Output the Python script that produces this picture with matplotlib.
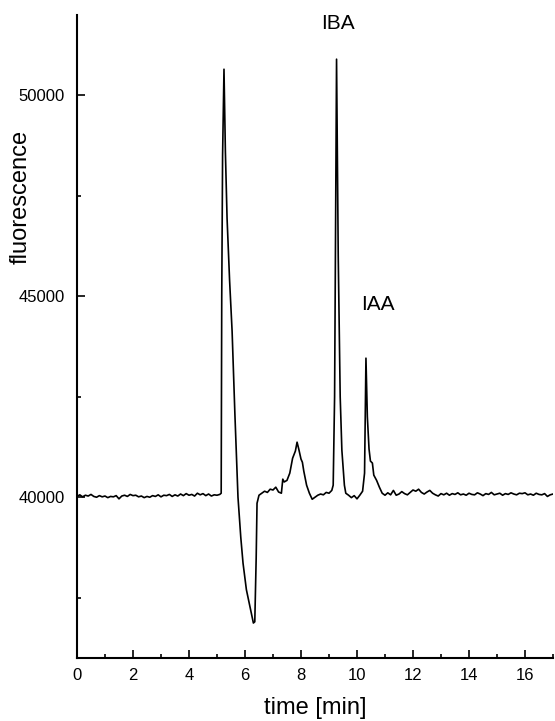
import matplotlib
matplotlib.use("Agg")
import matplotlib.pyplot as plt
from matplotlib.ticker import MultipleLocator

plt.rcParams["font.family"] = ["Liberation Sans", "DejaVu Sans"]

# chromatogram: time [min] and fluorescence
time_min = [
    0.0, 0.1, 0.2, 0.3, 0.4, 0.5, 0.6, 0.7, 0.8, 0.9,
    1.0, 1.1, 1.2, 1.3, 1.4, 1.5, 1.6, 1.7, 1.8, 1.9,
    2.0, 2.1, 2.2, 2.3, 2.4, 2.5, 2.6, 2.7, 2.8, 2.9,
    3.0, 3.1, 3.2, 3.3, 3.4, 3.5, 3.6, 3.7, 3.8, 3.9,
    4.0, 4.1, 4.2, 4.3, 4.4, 4.5, 4.6, 4.7, 4.8, 4.9,
    5.0, 5.1, 5.15, 5.17, 5.2, 5.25, 5.3, 5.36, 5.45, 5.54,
    5.64, 5.75, 5.85, 5.93, 6.05, 6.2, 6.3, 6.35, 6.4, 6.43,
    6.5, 6.6, 6.7, 6.8, 6.9, 7.0, 7.1, 7.2, 7.3, 7.35,
    7.4, 7.5, 7.6, 7.7, 7.8, 7.86, 7.92, 8.0, 8.05, 8.1,
    8.2, 8.3, 8.4, 8.5, 8.6, 8.7, 8.8, 8.9, 9.0, 9.1,
    9.15, 9.2, 9.27, 9.33, 9.4, 9.46, 9.55, 9.6, 9.7, 9.8,
    9.9, 10.0, 10.1, 10.2, 10.27, 10.32, 10.37, 10.43, 10.48, 10.55,
    10.6, 10.7, 10.8, 10.9, 11.0, 11.1, 11.2, 11.3, 11.4, 11.5,
    11.6, 11.7, 11.8, 11.9, 12.0, 12.1, 12.2, 12.3, 12.4, 12.5,
    12.6, 12.7, 12.8, 12.9, 13.0, 13.1, 13.2, 13.3, 13.4, 13.5,
    13.6, 13.7, 13.8, 13.9, 14.0, 14.1, 14.2, 14.3, 14.4, 14.5,
    14.6, 14.7, 14.8, 14.9, 15.0, 15.1, 15.2, 15.3, 15.4, 15.5,
    15.6, 15.7, 15.8, 15.9, 16.0, 16.1, 16.2, 16.3, 16.4, 16.5,
    16.6, 16.7, 16.8, 16.9, 17.0,
]
fluorescence = [
    40020, 40060, 40010, 40050, 40030, 40070, 40020, 40000, 40040, 40010,
    40030, 39990, 40020, 40010, 40040, 39960, 40030, 40050, 40020, 40070,
    40040, 40050, 40010, 40030, 39990, 40020, 40000, 40040, 40020, 40060,
    40010, 40050, 40040, 40070, 40020, 40060, 40030, 40080, 40040, 40090,
    40050, 40070, 40030, 40100, 40060, 40090, 40040, 40080, 40030, 40060,
    40050, 40070, 40100, 45000, 48500, 50650, 48600, 46940, 45400, 44130,
    42060, 40000, 39000, 38360, 37700, 37200, 36870, 36900, 38500, 39850,
    40050, 40100, 40150, 40120, 40200, 40180, 40250, 40130, 40100, 40450,
    40380, 40420, 40600, 40970, 41150, 41370, 41200, 40950, 40870, 40650,
    40300, 40100, 39950, 40000, 40050, 40080, 40060, 40120, 40100, 40170,
    40300, 42500, 50900, 46000, 42500, 41170, 40300, 40100, 40050, 39990,
    40040, 39960, 40050, 40150, 40600, 43460, 42000, 41200, 40900, 40850,
    40550, 40420, 40250, 40100, 40050, 40110, 40060, 40170, 40050, 40080,
    40140, 40090, 40060, 40120, 40180, 40150, 40200, 40120, 40080, 40130,
    40170, 40100, 40060, 40030, 40090, 40060, 40100, 40050, 40090, 40070,
    40110, 40060, 40080, 40050, 40100, 40070, 40060, 40110, 40080, 40040,
    40090, 40070, 40120, 40060, 40080, 40100, 40050, 40090, 40070, 40110,
    40080, 40060, 40100, 40090, 40110, 40060, 40080, 40050, 40100, 40070,
    40060, 40090, 40020, 40060, 40080,
]

peak_labels = ["IBA", "IAA"]
peak_label_pos = [(9.32, 51790), (10.75, 44800)]

fig = plt.figure(figsize=(5.55, 7.21), dpi=100)
ax = fig.add_axes([0.1387, 0.0874, 0.8577, 0.8918])

ax.plot(time_min, fluorescence, color="black", linewidth=1.2)

for lab, (tx, ty) in zip(peak_labels, peak_label_pos):
    ax.text(tx, ty, lab, fontsize=15, ha="center", va="center")

ax.set_xlim(0, 17)
ax.set_ylim(36000, 52000)
ax.xaxis.set_major_locator(MultipleLocator(2))
ax.xaxis.set_minor_locator(MultipleLocator(1))
ax.yaxis.set_major_locator(MultipleLocator(5000))
ax.yaxis.set_minor_locator(MultipleLocator(2500))
ax.tick_params(which="both", direction="in", width=1.2, labelsize=12)
ax.tick_params(which="major", length=6)
ax.tick_params(which="minor", length=3)
ax.tick_params(axis="y", pad=9)
ax.tick_params(axis="x", pad=7)

for side in ("top", "right"):
    ax.spines[side].set_visible(False)
for side in ("left", "bottom"):
    ax.spines[side].set_linewidth(1.5)

ax.set_xlabel("time [min]", fontsize=17)
ax.set_ylabel("fluorescence", fontsize=17)
ax.xaxis.set_label_coords(0.5, -0.061)
ax.yaxis.set_label_coords(-0.095, 0.717)

fig.savefig("out.png", dpi=100)
